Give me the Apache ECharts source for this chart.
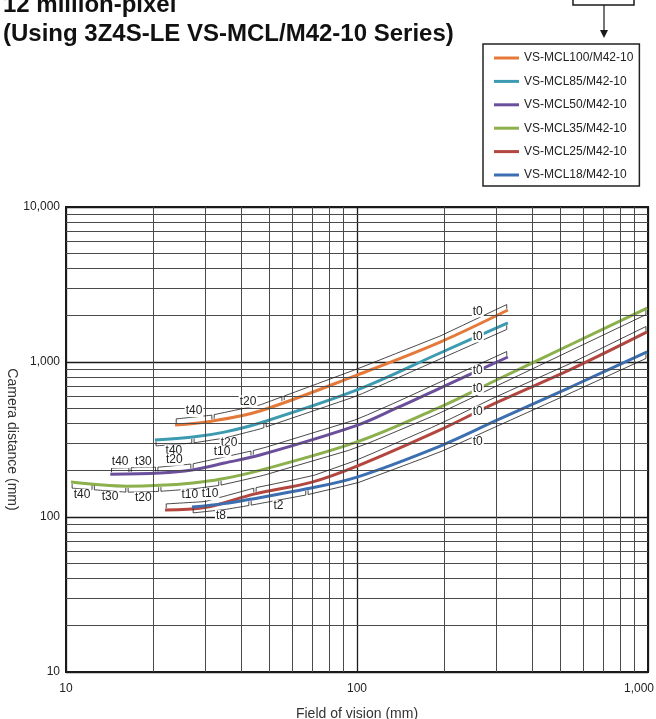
<!DOCTYPE html>
<html><head><meta charset="utf-8">
<script src="https://cdn.jsdelivr.net/npm/echarts@6/dist/echarts.min.js"></script>
<style>html,body{margin:0;padding:0;background:#fff}#c{width:656px;height:719px}</style>
</head><body><div id="c"></div>
<script>
// ---------- data ----------
const lensNames = ['VS-MCL100/M42-10','VS-MCL85/M42-10','VS-MCL50/M42-10','VS-MCL35/M42-10','VS-MCL25/M42-10','VS-MCL18/M42-10'];

const fov100  = [23.7, 31.6, 46.4, 100, 193, 330];
const dist100 = [392, 415, 483, 824, 1345, 2165];

const fov85  = [20.2, 27.3, 35, 46.4, 100, 193, 330];
const dist85 = [314, 328, 353, 404, 660, 1143, 1786];

const fov50  = [14.2, 21, 27.1, 35, 46.4, 100, 137, 193, 330];
const dist50 = [189, 192, 201, 223, 251, 390, 505, 679, 1077];

const fov35  = [10.4, 16.2, 21, 27.3, 33.8, 46.4, 100, 193, 298, 552, 993];
const dist35 = [168, 158, 160, 166, 175, 200, 305, 512, 757, 1316, 2229];

const fov25  = [21.9, 30, 44.6, 70, 100, 193, 300, 552, 993];
const dist25 = [111, 115, 141, 168, 213, 365, 545, 910, 1563];

const fov18  = [27.1, 35, 42.9, 67.3, 100, 193, 300, 552, 993];
const dist18 = [116, 122, 130, 152, 181, 287, 418, 700, 1161];

// extension-tube ranges [from FOV, to FOV, label]
const tubes100 = [[23.7, 32, 't40'], [32, 55.7, 't20'], [55.7, 330, 't0']];
const tubes85  = [[20.2, 27.3, 't40'], [27.3, 48.3, 't20'], [48.3, 330, 't0']];
const tubes50  = [[14.2, 16.6, 't40'], [16.6, 20.5, 't30'], [20.5, 27.1, 't20'], [27.1, 43.6, 't10'], [43.6, 330, 't0']];
const tubes35  = [[10.4, 12.4, 't40'], [12.4, 16.2, 't30'], [16.2, 21.0, 't20'], [21.0, 33.8, 't10'], [33.8, 993, 't0']];
const tubes25  = [[21.9, 44.6, 't10'], [44.6, 993, 't0']];
const tubes18  = [[27.1, 42.9, 't8'], [42.9, 67.3, 't2'], [67.3, 993, 't0']];

const t0LabelFov = 260;
const minorSteps = [2, 3, 4, 5, 6, 7, 8, 9];
const xDecades = [10, 100];
const yDecades = [10, 100, 1000];

// ---------- style ----------
const FONT = '"Liberation Sans", Arial, Helvetica, sans-serif';
const colors = ['#E4793A', '#3C9BB0', '#6B4E9C', '#8BB04C', '#B3463F', '#3B6FB2'];
const sides = [-1, 1, -1, 1, -1, 1];      // -1 bracket above curve, +1 below
const t0Shift = [-13, 0, 0, 0, 0, 13];

const lenses = [
  {fov: fov100, dist: dist100, tubes: tubes100},
  {fov: fov85, dist: dist85, tubes: tubes85},
  {fov: fov50, dist: dist50, tubes: tubes50},
  {fov: fov35, dist: dist35, tubes: tubes35},
  {fov: fov25, dist: dist25, tubes: tubes25},
  {fov: fov18, dist: dist18, tubes: tubes18}
];

function interp(xs, ys, x) {
  const lx = Math.log10(x);
  for (let k = 0; k < xs.length - 1; k++) {
    const a = Math.log10(xs[k]), b = Math.log10(xs[k + 1]);
    if (lx <= b || k === xs.length - 2) {
      const t = (lx - a) / (b - a);
      return Math.pow(10, Math.log10(ys[k]) + t * (Math.log10(ys[k + 1]) - Math.log10(ys[k])));
    }
  }
}

const tubeData = [];
lenses.forEach((L, i) => L.tubes.forEach((t, j) => tubeData.push([t[0], interp(L.fov, L.dist, t[0]), i, j])));

function renderTube(params, api) {
  const li = api.value(2), tj = api.value(3);
  const L = lenses[li], t = L.tubes[tj];
  const side = sides[li], off = 6 * side;
  const a = Math.log10(t[0]) + 0.004, b = Math.log10(t[1]) - 0.004;
  const n = 20, pts = [];
  for (let k = 0; k <= n; k++) {
    const x = Math.pow(10, a + (b - a) * k / n);
    const p = api.coord([x, interp(L.fov, L.dist, x)]);
    pts.push([p[0], p[1] + off]);
  }
  const poly = [[pts[0][0], pts[0][1] - off * 0.7]].concat(pts, [[pts[n][0], pts[n][1] - off * 0.7]]);
  const children = [{type: 'polyline', shape: {points: poly}, style: {stroke: '#1a1a1a', lineWidth: 0.8, fill: null}}];
  let tx, ty;
  if (t[2] === 't0') {
    const p = api.coord([t0LabelFov, interp(L.fov, L.dist, t0LabelFov)]);
    tx = p[0]; ty = p[1] + t0Shift[li];
  } else {
    const xm = Math.pow(10, (Math.log10(t[0]) + Math.log10(t[1])) / 2);
    const p = api.coord([xm, interp(L.fov, L.dist, xm)]);
    tx = p[0]; ty = p[1] + side * 12;
  }
  children.push({type: 'text', z2: 10, style: {text: t[2], x: tx, y: ty, fill: '#222', fontSize: 12, fontFamily: FONT,
    align: 'center', verticalAlign: 'middle', backgroundColor: '#fff', padding: [0, 1]}});
  return {type: 'group', children: children};
}

const vLines = [], hLines = [];
xDecades.forEach(d => minorSteps.forEach(m => vLines.push({xAxis: d * m})));
yDecades.forEach(d => minorSteps.forEach(m => hLines.push({yAxis: d * m})));

const series = [{
  type: 'line', name: '_grid', data: [[10, 10]], showSymbol: false, silent: true, z: 1,
  lineStyle: {width: 0},
  markLine: {silent: true, symbol: 'none', animation: false, label: {show: false},
    lineStyle: {color: '#4a4a4a', width: 1, type: 'solid'}, data: vLines.concat(hLines)}
}];
lenses.forEach((L, i) => series.push({
  type: 'line', name: lensNames[i], data: L.fov.map((x, k) => [x, L.dist[k]]),
  showSymbol: false, smooth: 0.35, z: 3, color: colors[i],
  lineStyle: {width: 3, color: colors[i]}
}));
series.push({type: 'custom', name: '_tubes', data: tubeData, encode: {x: 0, y: 1}, renderItem: renderTube, z: 5, clip: false, silent: true});

const chart = echarts.init(document.getElementById('c'), null, {renderer: 'canvas'});
chart.setOption({
  animation: false,
  backgroundColor: '#fff',
  title: {text: '12 million-pixel\n(Using 3Z4S-LE VS-MCL/M42-10 Series)', left: 3, top: -9, padding: 0,
    textStyle: {fontSize: 24, fontWeight: 'bold', color: '#111', fontFamily: FONT, lineHeight: 29}},
  legend: {data: lensNames, orient: 'vertical', left: 483, top: 44, padding: [7, 6, 4, 11],
    itemWidth: 25, itemHeight: 3, itemGap: 9.4, icon: 'rect',
    borderColor: '#222', borderWidth: 1.5, backgroundColor: '#fff',
    textStyle: {fontSize: 12, color: '#222', fontFamily: FONT, lineHeight: 14}},
  grid: {left: 66, top: 207, width: 582, height: 465, show: true, outerBoundsMode: 'none', containLabel: false,
    borderColor: '#1a1a1a', borderWidth: 2, backgroundColor: 'transparent'},
  xAxis: {type: 'log', logBase: 10, min: 10, max: 1000,
    name: 'Field of vision (mm)', nameLocation: 'middle', nameGap: 35, nameMoveOverlap: false,
    nameTextStyle: {fontSize: 14, color: '#333', fontFamily: FONT},
    axisLine: {show: true, lineStyle: {color: '#1a1a1a', width: 2}},
    axisTick: {show: false},
    axisLabel: {fontSize: 12, color: '#222', fontFamily: FONT, margin: 11,
      formatter: v => { const r = Math.round(v); return r >= 1000 ? '{r|' + r.toLocaleString('en-US') + '}' : String(r); },
      rich: {r: {fontSize: 12, color: '#222', fontFamily: FONT, padding: [0, 18, 0, 0]}}},
    splitLine: {show: true, lineStyle: {color: '#1a1a1a', width: 1.3}}},
  yAxis: {type: 'log', logBase: 10, min: 10, max: 10000,
    name: 'Camera distance (mm)', nameLocation: 'middle', nameGap: 47, nameRotate: -90, nameMoveOverlap: false,
    nameTextStyle: {fontSize: 14, color: '#333', fontFamily: FONT},
    axisLine: {show: true, lineStyle: {color: '#1a1a1a', width: 2}},
    axisTick: {show: false},
    axisLabel: {fontSize: 12, color: '#222', fontFamily: FONT, margin: 6,
      formatter: v => Math.round(v).toLocaleString('en-US')},
    splitLine: {show: true, lineStyle: {color: '#1a1a1a', width: 1.3}}},
  graphic: [
    {type: 'rect', shape: {x: 573, y: -20, width: 61, height: 25}, style: {fill: null, stroke: '#1a1a1a', lineWidth: 1.5}},
    {type: 'line', shape: {x1: 604, y1: 5, x2: 604, y2: 31}, style: {stroke: '#1a1a1a', lineWidth: 1.2}},
    {type: 'polygon', shape: {points: [[600, 30], [608, 30], [604, 38]]}, style: {fill: '#1a1a1a'}}
  ],
  series: series
});
</script></body></html>
